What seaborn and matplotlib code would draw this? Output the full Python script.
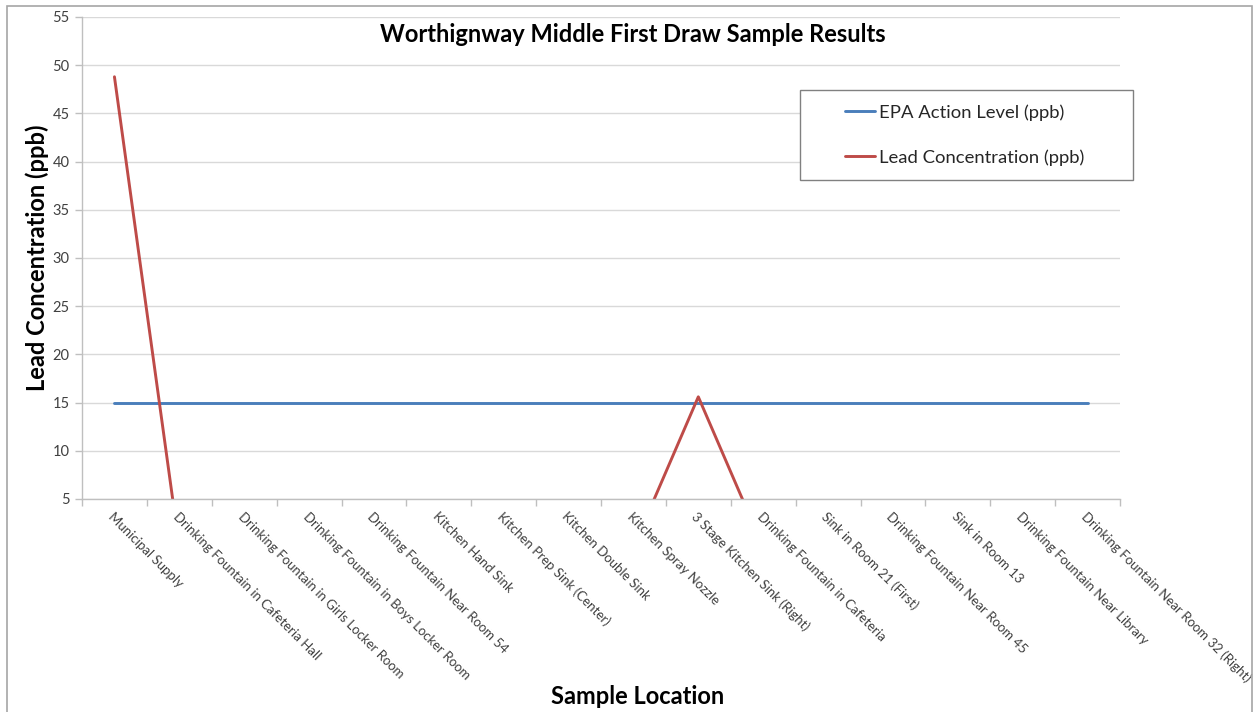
import matplotlib
matplotlib.use("Agg")
import matplotlib.pyplot as plt
import matplotlib.patches as mpatches
from matplotlib.ticker import FixedLocator
import seaborn as sns
import numpy as np
import pandas as pd

sns.set_theme(style='white')
plt.rcParams['font.family'] = ['Lato', 'DejaVu Sans']

# Sample locations and measured values (ppb)
locations = [
    'Municipal Supply',
    'Drinking Fountain in Cafeteria Hall',
    'Drinking Fountain in Girls Locker Room',
    'Drinking Fountain in Boys Locker Room',
    'Drinking Fountain Near Room 54',
    'Kitchen Hand Sink',
    'Kitchen Prep Sink (Center)',
    'Kitchen Double Sink',
    'Kitchen Spray Nozzle',
    '3 Stage Kitchen Sink (Right)',
    'Drinking Fountain in Cafeteria',
    'Sink in Room 21 (First)',
    'Drinking Fountain Near Room 45',
    'Sink in Room 13',
    'Drinking Fountain Near Library',
    'Drinking Fountain Near Room 32 (Right)',
]
lead_ppb = [48.8, 0, 0, 0, 0, 0, 0, 0, 0, 15.6, 0, 0, 0, 0, 0, 0]
epa_ppb = [15] * len(locations)
y_ticks = list(range(5, 56, 5))

df = pd.DataFrame({'location': locations, 'lead': lead_ppb, 'epa': epa_ppb})

fig = plt.figure(figsize=(12.56, 7.12), dpi=100)
ax = fig.add_axes([82 / 1256, 1 - 499 / 712, (1120 - 82) / 1256, (499 - 17) / 712])

blue = '#4A7EBB'
red = '#BE4B48'
sns.lineplot(data=df, x='location', y='epa', sort=False, color=blue,
             linewidth=2.1, label='EPA Action Level (ppb)', ax=ax)
sns.lineplot(data=df, x='location', y='lead', sort=False, color=red,
             linewidth=2.1, label='Lead Concentration (ppb)', ax=ax)

n = len(locations)
ax.set_xlim(-0.5, n - 0.5)
ax.set_ylim(5, 55)
ax.set_yticks(y_ticks)
ax.yaxis.grid(True, color='#D9D9D9', linewidth=1.0)
ax.set_axisbelow(True)

ax.set_xticks(range(n))
ax.set_xticklabels(locations, rotation=-45, ha='left', va='top',
                   rotation_mode='anchor', fontsize=9.5, color='#404040')
ax.tick_params(axis='x', which='major', length=0, pad=8)
ax.xaxis.set_minor_locator(FixedLocator(np.arange(-0.5, n, 1.0)))
ax.tick_params(axis='x', which='minor', bottom=True, length=5,
               color='#BFBFBF', width=1)
ax.tick_params(axis='y', left=True, length=5, color='#BFBFBF', width=1,
               labelsize=10.5, labelcolor='#404040', pad=4)

for side in ['top', 'right']:
    ax.spines[side].set_visible(False)
for side in ['left', 'bottom']:
    ax.spines[side].set_color('#BFBFBF')
    ax.spines[side].set_linewidth(1)

ax.set_xlabel('')
ax.set_ylabel('')

fig.text(633 / 1256, 1 - 34 / 712, 'Worthignway Middle First Draw Sample Results',
         ha='center', va='center', fontsize=17, fontweight='bold', color='black')
fig.text(37 / 1256, 1 - 258 / 712, 'Lead Concentration (ppb)', rotation=90,
         ha='center', va='center', fontsize=17, fontweight='bold', color='black')
fig.text(638 / 1256, 1 - 697 / 712, 'Sample Location',
         ha='center', va='center', fontsize=17, fontweight='bold', color='black')

# legend entries without frame, box drawn separately
leg = ax.legend(loc='center left', bbox_to_anchor=(845 / 1256, 1 - 135 / 712),
                bbox_transform=fig.transFigure, frameon=False,
                fontsize=13.3, handlelength=1.6, handletextpad=0.25,
                labelspacing=1.55, borderpad=0, borderaxespad=0)
for t in leg.get_texts():
    t.set_color('#262626')
box = mpatches.Rectangle((800 / 1256, 1 - 180 / 712), 333 / 1256, 90 / 712,
                         transform=fig.transFigure, fill=True, facecolor='white',
                         edgecolor='#808080', linewidth=1, zorder=4, clip_on=False)
ax.add_artist(box)

# outer chart border
fig.patches.append(mpatches.Rectangle((7 / 1256, -0.05), (1252 - 7) / 1256,
                                      1 - 6 / 712 + 0.05, transform=fig.transFigure,
                                      fill=False, edgecolor='#A6A6A6', linewidth=1.2))

fig.savefig('out.png', dpi=100)
